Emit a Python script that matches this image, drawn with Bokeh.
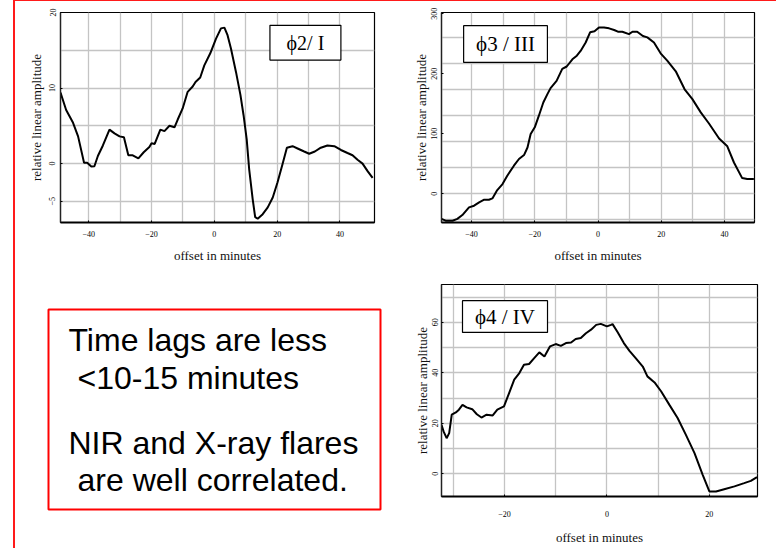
from bokeh.plotting import figure
from bokeh.layouts import row, column
from bokeh.models import Range1d, FixedTicker, Spacer
from bokeh.core.properties import value
from bokeh.embed import file_html
from bokeh.resources import INLINE

# ---------------- data ----------------
x1 = [-49, -47.2, -45, -43.4, -41.5, -40.5, -39.2, -38.2, -37.1, -35.5, -33.4, -31.8, -30.2, -28.8,
      -27.4, -26, -24.2, -22.5, -20.7, -20, -19, -17.2, -15.9, -14.3, -12.7, -11.7, -10.1, -8.5,
      -6.9, -6, -4.5, -3.2, -1.3, 0.5, 2.1, 3.2, 4.2, 5.3, 6.9, 8.3, 9.3, 10.3, 11.1, 12.2, 13,
      13.8, 15.4, 17, 18.6, 20.1, 21.7, 23.1, 24.9, 26.5, 28.6, 30.2, 32, 33.9, 36, 38.2, 40.3,
      42.4, 44, 45.6, 47.2, 48.8, 50.4]
y1 = [9.4, 7.1, 5.4, 3.6, 0.1, 0.1, -0.4, -0.35, 1.0, 2.4, 4.5, 4.0, 3.6, 3.5, 1.1, 1.1, 0.7, 1.5,
      2.2, 2.7, 2.6, 4.5, 4.3, 5.0, 4.8, 5.8, 7.3, 9.5, 10.2, 10.8, 11.4, 13.0, 14.6, 16.5, 17.9,
      18.0, 17.0, 15.2, 12.1, 9.1, 6.4, 3.2, -0.8, -4.7, -7.1, -7.3, -6.7, -5.8, -4.5, -2.5, -0.1,
      2.1, 2.3, 2.0, 1.6, 1.3, 1.6, 2.1, 2.4, 2.3, 1.8, 1.4, 1.1, 0.5, 0.0, -1.0, -1.9]

x2 = [-49.5, -48.2, -46, -44.5, -42.9, -40.8, -39.2, -37.6, -36, -34.5, -33.4, -32, -30.2, -28.7,
      -26.6, -25, -23.4, -22.3, -21.3, -20, -18.7, -17.3, -16, -15, -13.1, -11.3, -9.9, -8.1,
      -6.7, -5.5, -3.9, -2.5, -1.1, 0.3, 1.9, 3.5, 5.1, 6.3, 7.7, 9.8, 10.9, 12.4, 14.2, 15.6,
      17.7, 19.8, 21.9, 24.6, 27.4, 29.8, 32.5, 35.1, 38.3, 40.9, 43, 45.6, 47.2, 49.3]
y2 = [-42, -45, -45, -42, -35.6, -22.8, -20, -14.4, -10, -10, -7.8, 5, 16, 30, 46.7, 57.8, 64.4,
      77, 99.4, 110.6, 130, 152, 166, 176, 188, 208, 212, 224, 230, 238, 252, 269, 270.6, 277,
      277, 275.6, 272.8, 270, 270, 266, 270, 270, 262.8, 260.6, 252, 234, 221.7, 204, 174, 158,
      135.6, 117, 92, 79, 52, 26, 24.4, 24.4]

x3 = [-32.3, -31.9, -31.3, -30.8, -30.3, -29.5, -28.9, -28.2, -27.4, -26.3, -25.4, -24.5, -23.5,
      -22.3, -21.4, -20.1, -19.1, -18.1, -17.1, -16.2, -15.2, -14.2, -13.2, -12.2, -11.1, -10,
      -9, -8, -7, -6.1, -5.1, -4.1, -3.1, -2.1, -1.2, 0, 0.8, 1.1, 2.1, 3.3, 4.4, 5.7, 7, 7.9,
      9.3, 10.6, 12.2, 13.8, 15.4, 17.1, 18.7, 20, 21.3, 22.9, 24.9, 26.8, 28.1, 29.3]
y3 = [19.4, 16.8, 14.1, 16.1, 23.4, 24.3, 25.4, 27.3, 26.3, 25.6, 23.6, 22.3, 23.4, 23.1, 25.4,
      26.7, 32, 37.3, 39.9, 43.2, 43.5, 45.8, 48.1, 46.5, 50.5, 51.4, 50.7, 51.8, 52, 53.4, 53.8,
      55.7, 57.1, 59, 59.4, 58.4, 59, 59.3, 56.1, 51.8, 48.7, 45.6, 42.5, 38.6, 36.2, 32.6, 27.3,
      22.1, 15.5, 8.2, -0.4, -7, -7, -6.1, -5, -3.7, -2.8, -1.3]

titles = ["\u03d52/ I", "\u03d53 / III", "\u03d54 / IV"]
x_label = "offset in minutes"
y_label = "relative linear amplitude"

xticks1 = [-40, -20, 0, 20, 40]
yticks1 = [-5, 0, 10, 20]
xgrid1 = [-40, -30, -20, -10, 0, 10, 20, 30, 40]
ygrid1 = [-5, 0, 5, 10, 15]

xticks2 = [-40, -20, 0, 20, 40]
yticks2 = [0, 100, 200, 300]
xgrid2 = [-40, -30, -20, -10, 0, 10, 20, 30, 40]
ygrid2 = [-43, 0, 43.5, 87, 130, 173.5, 217, 261]

xticks3 = [-20, 0, 20]
yticks3 = [0, 20, 40, 60]
xgrid3 = [-30, -20, -10, 0, 10, 20]
ygrid3 = [0, 10, 20, 30, 40, 50, 60, 70]

note_lines = ["Time lags are less", "<10-15 minutes", "NIR and X-ray flares", "are well  correlated."]

SERIF = "Liberation Serif"
SANS = "Liberation Sans"
RED = "#ff1a1a"


def panel(w, h, bl, br, bt, bb, xr, yr, border_fill="white"):
    p = figure(width=w, height=h, output_backend="svg", toolbar_location=None,
               x_range=Range1d(*xr), y_range=Range1d(*yr),
               min_border_left=bl, min_border_right=br, min_border_top=bt, min_border_bottom=bb,
               background_fill_color="white", border_fill_color=border_fill)
    p.outline_line_color = "black"
    p.outline_line_width = 1.2
    p.outline_line_alpha = 1
    return p


def style(p, xt, yt, xg, yg, ystand, ylabstand, xstand, xlabstand):
    p.xaxis.ticker = FixedTicker(ticks=xt)
    p.yaxis.ticker = FixedTicker(ticks=yt)
    p.xgrid.ticker = FixedTicker(ticks=xg)
    p.ygrid.ticker = FixedTicker(ticks=yg)
    for g in (p.xgrid, p.ygrid):
        g.grid_line_color = "#c4c4c4"
        g.grid_line_width = 1.3
    for ax in (p.xaxis, p.yaxis):
        ax.major_tick_out = 0
        ax.major_tick_in = 2
        ax.minor_tick_out = 0
        ax.minor_tick_in = 0
        ax.major_tick_line_color = "black"
        ax.major_label_text_font = SERIF
        ax.major_label_text_font_size = "8px"
        ax.major_label_text_color = "black"
        ax.axis_label_text_font = SERIF
        ax.axis_label_text_font_size = "13px"
        ax.axis_label_text_font_style = "normal"
        ax.axis_label_text_color = "#111111"
    p.xaxis.axis_line_width = 2.2
    p.xaxis.axis_line_color = "black"
    p.yaxis.axis_line_width = 1.3
    p.yaxis.axis_line_color = "#222222"
    p.yaxis.major_label_orientation = "vertical"
    p.xaxis.axis_label = x_label
    p.yaxis.axis_label = y_label
    p.yaxis.major_label_standoff = ystand
    p.yaxis.axis_label_standoff = ylabstand
    p.xaxis.major_label_standoff = xstand
    p.xaxis.axis_label_standoff = xlabstand


def title_box(p, l, r, t, b, txt, size):
    p.quad(left=[l], right=[r], top=[t], bottom=[b], fill_color="white",
           line_color="black", line_width=1.2)
    p.text(x=[(l + r) / 2], y=[(t + b) / 2], text=[txt], text_align="center",
           text_baseline="middle", text_font=value(SERIF), text_font_size=size,
           text_color="black")


# Panel 1 (transparent border so the page frame line behind it shows at the top)
p1 = panel(375, 270, 45, 16, 12, 48, (-49, 51), (-7.8, 20), border_fill=None)
style(p1, xticks1, yticks1, xgrid1, ygrid1, 5, 3, 8, 8)
title_box(p1, 17.7, 40.3, 18.3, 13.7, titles[0], "20px")
p1.line(x1, y1, line_color="black", line_width=2)

# Panel 2
p2 = panel(386, 270, 51, 22, 12, 48, (-49.5, 49.5), (-48, 302), border_fill=None)
style(p2, xticks2, yticks2, xgrid2, ygrid2, 4, 0, 8, 8)
title_box(p2, -42.5, -16, 280, 218.8, titles[1], "21px")
p2.line(x2, y2, line_color="black", line_width=2)

# Panel 3
p3 = panel(386, 278, 51, 19, 14, 52, (-32.3, 29.4), (-9, 75))
style(p3, xticks3, yticks3, xgrid3, ygrid3, 3, 0, 14, 10)
title_box(p3, -28.2, -11.6, 68.6, 56, titles[2], "21px")
p3.line(x3, y3, line_color="black", line_width=2)

# Text box figure (page pixel coordinates)
pt = figure(width=375, height=278, output_backend="svg", toolbar_location=None,
            x_range=Range1d(15, 390), y_range=Range1d(548, 270), min_border=0,
            x_axis_type=None, y_axis_type=None, outline_line_color=None,
            background_fill_color="white", border_fill_color="white")
pt.grid.visible = False
pt.quad(left=[48], right=[380], top=[309], bottom=[509], fill_color=None,
        line_color="#ff0000", line_width=2)
pt.text(x=[68, 77, 68, 77], y=[339, 377, 442, 479], text=note_lines,
        text_align="left", text_baseline="alphabetic", text_font=value(SANS),
        text_font_size="32px", text_color="black")

left_bar = Spacer(width=2, height=548, margin=0, styles={"background-color": RED})

grid = column(row(p1, p2, spacing=0),
              row(column(pt, spacing=0), column(p3, spacing=0), spacing=0),
              spacing=0,
              styles={"background": "linear-gradient(to bottom, #ff1a1a 0px, #ff1a1a 1px, "
                                    "#ffffff 1px, #ffffff 100%)"})

layout = row(Spacer(width=13, height=548, margin=0), left_bar, grid, spacing=0)

open("out.html", "w").write(file_html(layout, INLINE))
